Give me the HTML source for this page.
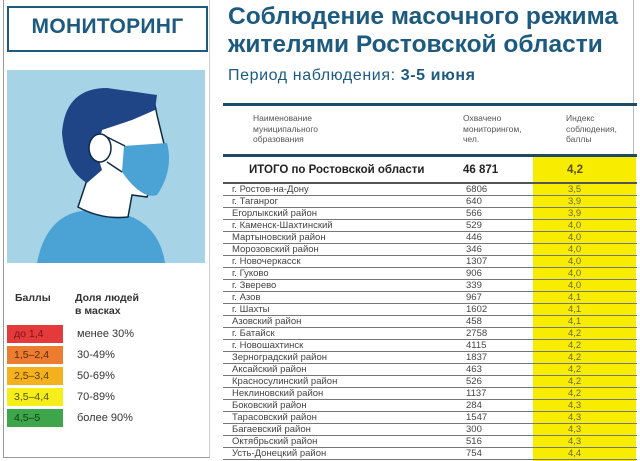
<!DOCTYPE html>
<html><head><meta charset="utf-8"><style>
body{margin:0;width:640px;height:461px;background:#fff;position:relative;overflow:hidden;font-family:"Liberation Sans","DejaVu Sans",sans-serif;color:#333}
.a{position:absolute;white-space:nowrap}
.row{position:absolute;left:223px;width:414px;height:12px;box-sizing:border-box;border-bottom:1px solid #777;font-size:9.5px;color:#444;line-height:11px}
.row span{position:absolute;top:0px}
.n{left:9px}.c{left:243px}.i{left:345px;color:#6a6a30}
</style></head><body>
<div class="a" style="left:3px;top:0;width:205px;height:457px;border-left:1px solid #999;border-bottom:1px solid #999;border-right:1px solid #ccc"></div>
<div class="a" style="left:7px;top:6px;width:197px;height:42px;border:2px solid #1d5a80;box-sizing:content-box"></div>
<div class="a" style="left:7px;top:15px;width:201px;text-align:center;font-size:21px;font-weight:bold;color:#1d5a80;letter-spacing:0.3px">МОНИТОРИНГ</div>
<svg class="a" style="left:7px;top:70px" width="198" height="193" viewBox="0 0 198 193">
<rect width="198" height="193" fill="#a6d4e6"/>
<path d="M30 193 Q40 140 86 140 Q150 140 158 193Z" fill="#4aa3d4"/>
<path d="M80 110 L71 137 Q95 150 121 147 L125 125 L140 127 L158 78 L150 45 L148 35 L100 40 Z" fill="#fff" stroke="#0f2a44" stroke-width="1.5"/>
<path d="M55 63 Q58 18 100 18 L150 25 L148 40 L125 50 L95 60 Q88 80 95 100 L80 113 Q58 100 55 63Z" fill="#1f4587"/>
<ellipse cx="93" cy="78" rx="11" ry="14" fill="#fff" stroke="#0f2a44" stroke-width="1.5"/>
<path d="M117 76 L160 73 Q167 100 150 125 Q135 130 115 102 Z" fill="#4aa3d4"/>
<path d="M98 66 L118 76 M100 92 L115 102" stroke="#0f2a44" stroke-width="1.5"/>
</svg>
<div class="a" style="left:15px;top:292px;font-size:10.5px;font-weight:bold;color:#333">Баллы</div>
<div class="a" style="left:75px;top:292px;font-size:10.5px;font-weight:bold;color:#333;line-height:13px">Доля людей<br>в масках</div>
<div class="a" style="left:7px;top:325px;width:56px;height:18px;background:#e53a3c;font-size:10.5px;color:#7a1515;padding-left:7px;box-sizing:border-box;line-height:18px">до 1,4</div>
<div class="a" style="left:7px;top:346px;width:56px;height:18px;background:#ec7c30;font-size:10.5px;color:#5a2a0a;padding-left:7px;box-sizing:border-box;line-height:18px">1,5–2,4</div>
<div class="a" style="left:7px;top:367px;width:56px;height:18px;background:#f3b11d;font-size:10.5px;color:#5a3d00;padding-left:7px;box-sizing:border-box;line-height:18px">2,5–3,4</div>
<div class="a" style="left:7px;top:388px;width:56px;height:18px;background:#f6ee1a;font-size:10.5px;color:#5a5000;padding-left:7px;box-sizing:border-box;line-height:18px">3,5–4,4</div>
<div class="a" style="left:7px;top:409px;width:56px;height:18px;background:#3da54a;font-size:10.5px;color:#0d3d12;padding-left:7px;box-sizing:border-box;line-height:18px">4,5–5</div>
<div class="a" style="left:77px;top:328px;font-size:11px;color:#333">менее 30%</div>
<div class="a" style="left:77px;top:349px;font-size:11px;color:#333">30-49%</div>
<div class="a" style="left:77px;top:370px;font-size:11px;color:#333">50-69%</div>
<div class="a" style="left:77px;top:391px;font-size:11px;color:#333">70-89%</div>
<div class="a" style="left:77px;top:412px;font-size:11px;color:#333">более 90%</div>
<div class="a" style="left:633px;top:0;width:1px;height:461px;background:#bbb"></div>
<div class="a" style="left:228px;top:3px;font-size:24.5px;font-weight:bold;color:#1d5a80;line-height:28px">Соблюдение масочного режима<br>жителями Ростовской области</div>
<div class="a" style="left:228px;top:67px;font-size:16px;color:#1d5a80;letter-spacing:0.6px">Период наблюдения: <b>3-5 июня</b></div>
<div class="a" style="left:223px;top:103px;width:414px;height:3px;background:#1d4a66"></div>
<div class="a" style="left:533px;top:156px;width:103px;height:305px;background:#f8ec00"></div>
<div class="a" style="left:253px;top:113px;font-size:8.5px;color:#555;line-height:10.5px">Наименование<br>муниципального<br>образования</div>
<div class="a" style="left:463px;top:113px;font-size:8.5px;color:#555;line-height:10.5px">Охвачено<br>мониторингом,<br>чел.</div>
<div class="a" style="left:566px;top:113px;font-size:8.5px;color:#555;line-height:10.5px">Индекс<br>соблюдения,<br>баллы</div>
<div class="a" style="left:223px;top:154px;width:414px;height:3px;background:#1d4a66"></div>
<div class="a" style="left:249px;top:164px;font-size:11.5px;font-weight:bold;color:#222">ИТОГО по Ростовской области</div>
<div class="a" style="left:463px;top:164px;font-size:11.5px;font-weight:bold;color:#222">46 871</div>
<div class="a" style="left:567px;top:164px;font-size:11.5px;font-weight:bold;color:#5a5000">4,2</div>
<div class="a" style="left:223px;top:182px;width:414px;height:2px;background:#555"></div>
<div id="t"></div>
<script>
var d=[["г. Ростов-на-Дону",6806,"3,5"],["г. Таганрог",640,"3,9"],["Егорлыкский район",566,"3,9"],["г. Каменск-Шахтинский",529,"4,0"],["Мартыновский район",446,"4,0"],["Морозовский район",346,"4,0"],["г. Новочеркасск",1307,"4,0"],["г. Гуково",906,"4,0"],["г. Зверево",339,"4,0"],["г. Азов",967,"4,1"],["г. Шахты",1602,"4,1"],["Азовский район",458,"4,1"],["г. Батайск",2758,"4,2"],["г. Новошахтинск",4115,"4,2"],["Зерноградский район",1837,"4,2"],["Аксайский район",463,"4,2"],["Красносулинский район",526,"4,2"],["Неклиновский район",1137,"4,2"],["Боковский район",284,"4,3"],["Тарасовский район",1547,"4,3"],["Багаевский район",300,"4,3"],["Октябрьский район",516,"4,3"],["Усть-Донецкий район",754,"4,4"]];
var h="";for(var k=0;k<d.length;k++){var y=184+k*12;h+='<div class="row" style="top:'+y+'px"><span class="n">'+d[k][0]+'</span><span class="c">'+d[k][1]+'</span><span class="i">'+d[k][2]+'</span></div>';}
document.getElementById("t").innerHTML=h;
</script>
</body></html>
